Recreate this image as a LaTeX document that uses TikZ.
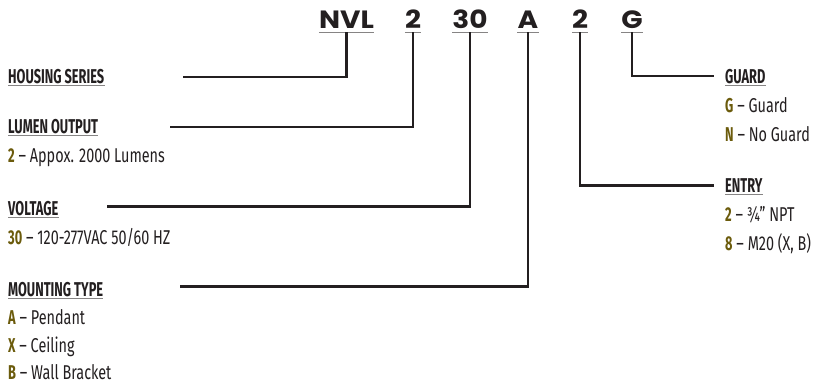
\documentclass[tikz,border=0pt]{standalone}
\usepackage{fontspec}
\setmainfont{Fira Sans}[FakeStretch=0.72, BoldFeatures={FakeStretch=0.64}]
\newfontfamily\codefont{Poppins}[FakeStretch=1.12]
\usetikzlibrary{positioning}
\definecolor{ink}{HTML}{231F20}
\definecolor{gold}{HTML}{6B5B0C}
\newcommand{\opt}[2]{\textcolor{gold}{\bfseries #1} – #2}
\tikzset{
  underlined/.style={append after command={(\tikzlastnode.south west) edge[rule] (\tikzlastnode.south east)}},
  code/.style={font=\codefont\bfseries\fontsize{25}{25}\selectfont, text=ink, inner xsep=0pt, inner ysep=3pt, text depth=0pt, anchor=south, underlined},
  head/.style={font=\bfseries\fontsize{20}{20}\selectfont, text=ink, inner xsep=0pt, inner ysep=2pt, text depth=0pt, anchor=base west, underlined},
  item/.style={font=\fontsize{20}{20}\selectfont, text=ink, inner sep=0pt, anchor=base west},
  link/.style={draw=ink, line width=2.5pt},
  rule/.style={draw=ink!55, line width=1pt}
}
\begin{document}
\begin{tikzpicture}[x=1pt,y=-1pt]
  \useasboundingbox (0,0) rectangle (818,383);

  % ordering code
  \node[code] (nvl) at (346.5,32) {NVL};
  \node[code] (lum) at (413,32) {2};
  \node[code] (volt) at (470,32) {30};
  \node[code] (mnt) at (528,32) {A};
  \node[code] (ent) at (580,32) {2};
  \node[code] (grd) at (632,32) {G};

  % left column
  \node[head] (hsHd) at (8,83) {HOUSING SERIES};
  \node[head] (lumHd) at (8,133) {LUMEN OUTPUT};
  \node[item] (lum2) at (8,162.5) {\opt{2}{Appox. 2000 Lumens}};
  \node[head] (voltHd) at (8,215) {VOLTAGE};
  \node[item] (volt30) at (8,244) {\opt{30}{120-277VAC 50/60 HZ}};
  \node[head] (mntHd) at (8,296) {MOUNTING TYPE};
  \node[item] (mntA) at (8,324.5) {\opt{A}{Pendant}};
  \node[item] (mntX) at (8,352.5) {\opt{X}{Ceiling}};
  \node[item] (mntB) at (8,379.5) {\opt{B}{Wall Bracket}};

  % right column
  \node[head] (grdHd) at (725,83) {GUARD};
  \node[item] (grdG) at (725,112) {\opt{G}{Guard}};
  \node[item] (grdN) at (725,141) {\opt{N}{No Guard}};
  \node[head] (entHd) at (725,192.5) {ENTRY};
  \node[item] (ent2) at (725,221) {\opt{2}{¾” NPT}};
  \node[item] (ent8) at (725,250) {\opt{8}{M20 (X, B)}};

  \coordinate (hsEnd) at (183,77);
  \coordinate (lumEnd) at (170,127);
  \coordinate (voltEnd) at (107,206.5);
  \coordinate (mntEnd) at (180,286.5);
  \coordinate (grdEnd) at (714,76);
  \coordinate (entEnd) at (714,185.5);

  \draw[link] (nvl.south) |- (hsEnd);
  \draw[link] (lum.south) |- (lumEnd);
  \draw[link] (volt.south) |- (voltEnd);
  \draw[link] (mnt.south) |- (mntEnd);
  \draw[link] (grd.south) |- (grdEnd);
  \draw[link] (ent.south) |- (entEnd);
\end{tikzpicture}
\end{document}
